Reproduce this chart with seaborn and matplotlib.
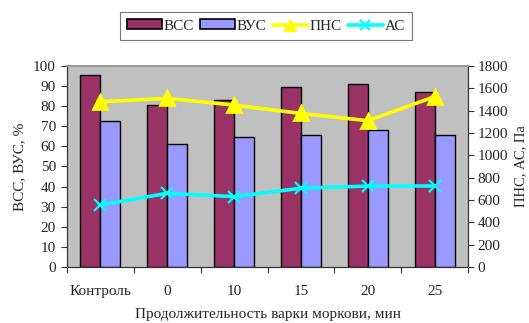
import numpy as np
import pandas as pd
import matplotlib
matplotlib.use("Agg")
import matplotlib.pyplot as plt
from matplotlib.patches import Patch
from matplotlib.lines import Line2D
import seaborn as sns

# Данные: продолжительность варки моркови
categories = ["Контроль", "0", "10", "15", "20", "25"]
vss = [95.5, 80.5, 83.0, 89.5, 91.0, 87.0]      # ВСС, %
vus = [72.5, 61.0, 64.5, 65.5, 68.0, 65.5]      # ВУС, %
pns = [1480, 1510, 1450, 1375, 1310, 1525]      # ПНС, Па
ac = [555, 660, 630, 705, 725, 725]             # АС, Па
left_ticks = list(range(0, 101, 10))
right_ticks = list(range(0, 1801, 200))

sns.set_theme(style="white")
plt.rcParams["font.family"] = ["Liberation Serif", "DejaVu Serif"]

bar_colors = {"ВСС": "#993366", "ВУС": "#9999FF"}

df = pd.DataFrame({
    "cat": categories * 2,
    "val": vss + vus,
    "series": ["ВСС"] * len(categories) + ["ВУС"] * len(categories),
})

fig = plt.figure(figsize=(5.29, 3.23), dpi=100)
ax = fig.add_axes([0.1267, 0.1734, 0.758, 0.6223])
ax.set_facecolor("#C0C0C0")

sns.barplot(data=df, x="cat", y="val", hue="series", palette=bar_colors,
            width=0.6, edgecolor="black", linewidth=1.0, saturation=1,
            legend=False, ax=ax)

ax2 = ax.twinx()
sns.pointplot(x=categories, y=pns, color="#FFFF00", markers="^",
              linestyles="-", markersize=10, linewidth=2.6, ax=ax2)
sns.pointplot(x=categories, y=ac, color="#00FFFF", markers="x",
              linestyles="-", markersize=8, linewidth=2.6, ax=ax2)
for ln in ax2.lines:
    if ln.get_color() in ("#00FFFF",):
        ln.set_markeredgewidth(1.6)

n = len(categories)
ax.set_xlim(-0.5, n - 0.5)
ax.set_ylim(0, 100)
ax2.set_ylim(0, 1800)
ax.set_yticks(left_ticks)
ax2.set_yticks(right_ticks)

fs = 11

# Tick marks between categories, labels at category centres
ax.set_xticks(np.arange(-0.5, n, 1.0))
ax.set_xticklabels([])
ax.set_xticks(np.arange(n), minor=True)
ax.set_xticklabels(categories, minor=True)
ax.tick_params(axis="x", which="major", direction="out", length=4,
               width=0.8, color="#333333", bottom=True)
ax.tick_params(axis="x", which="minor", length=0, pad=13, labelsize=fs)
ax.tick_params(axis="y", direction="out", length=4, width=0.8,
               color="#333333", left=True, labelsize=fs, pad=4)
ax2.tick_params(axis="y", direction="out", length=4, width=0.8,
                color="#333333", right=True, labelsize=fs, pad=3)
ax2.tick_params(axis="x", which="both", length=0)

for a in (ax, ax2):
    for side in ("left", "bottom", "right"):
        a.spines[side].set_color("#333333")
        a.spines[side].set_linewidth(0.8)
    a.spines["top"].set_color("#999999")
    a.spines["top"].set_linewidth(1.2)

ax.set_xlabel("Продолжительность варки моркови, мин", fontsize=fs, labelpad=7)
ax.set_ylabel("ВСС, ВУС, %", fontsize=fs, labelpad=5)
ax2.set_ylabel("ПНС, АС, Па", fontsize=10.5, labelpad=4)

handles = [
    Patch(facecolor=bar_colors["ВСС"], edgecolor="black", linewidth=1.2),
    Patch(facecolor=bar_colors["ВУС"], edgecolor="black", linewidth=1.2),
    Line2D([], [], color="#FFFF00", marker="^", markersize=8, linewidth=2.6),
    Line2D([], [], color="#00FFFF", marker="x", markersize=7, linewidth=2.6,
           markeredgewidth=1.6),
]
leg = fig.legend(handles, ["ВСС", "ВУС", "ПНС", "АС"], loc="center",
                 bbox_to_anchor=(266 / 529, 1 - 26 / 323), ncol=4,
                 frameon=True, fancybox=False, edgecolor="#555555",
                 fontsize=11, handlelength=2.3, handleheight=0.65,
                 handletextpad=0.1, columnspacing=0.4, borderpad=0.5)
leg.get_frame().set_linewidth(0.8)

fig.savefig("out.png", dpi=100, facecolor="white")
